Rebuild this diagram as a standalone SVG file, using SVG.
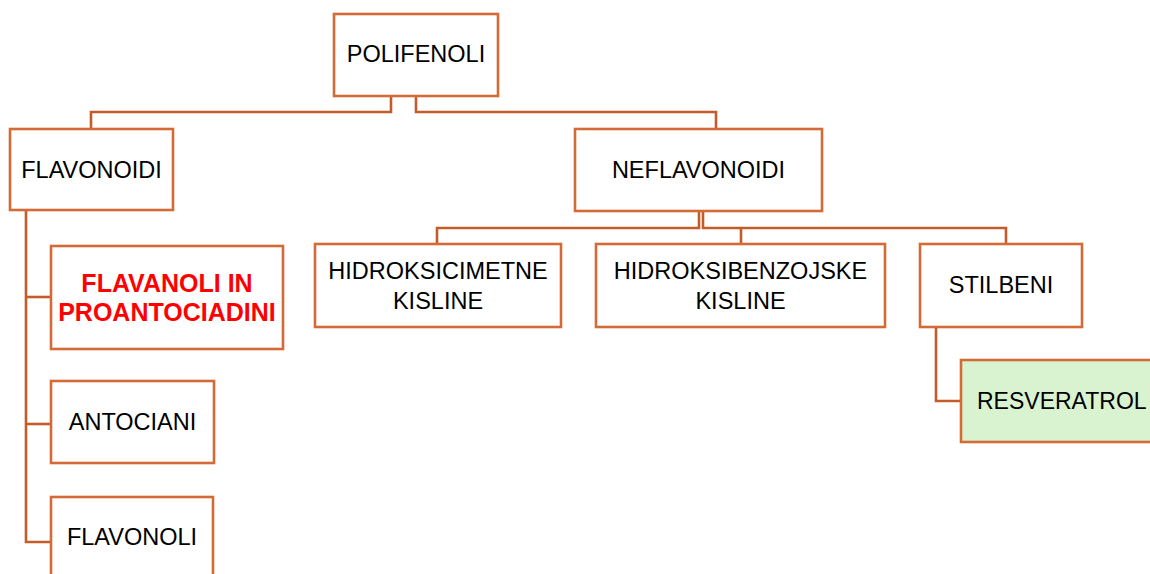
<svg xmlns="http://www.w3.org/2000/svg" width="1150" height="574" viewBox="0 0 1150 574">
<style>
.box{fill:#ffffff;stroke:#d46a36;stroke-width:2.6}
.green{fill:#d9f2d0}
.t{font-family:"Liberation Sans",Arial,sans-serif;font-size:23.5px;fill:#000000;text-anchor:middle}
.r{font-family:"Liberation Sans",Arial,sans-serif;font-size:25px;font-weight:bold;fill:#ff0000;text-anchor:middle}
.c{fill:none;stroke:#c45c2a;stroke-width:2.6}
</style>
<rect width="1150" height="574" fill="#ffffff"/>
<g id="connectors">
<path class="c" d="M391,96 V112 H91 V129"/>
<path class="c" d="M416,96 V112 H716 V129"/>
<path class="c" d="M699,211 V228 H437 V244"/>
<path class="c" d="M703,211 V228 H1006 V244"/>
<path class="c" d="M741,228 V244"/>
<path class="c" d="M936,327 V401 H961"/>
<path class="c" d="M26,210 V542 H51"/>
<path class="c" d="M26,297 H51"/>
<path class="c" d="M26,424 H51"/>
</g>
<g id="polifenoli">
<rect class="box" x="334" y="14" width="164" height="82"/>
<text class="t" x="416" y="62">POLIFENOLI</text>
</g>
<g id="flavonoidi">
<rect class="box" x="10" y="129" width="163" height="81"/>
<text class="t" x="91.5" y="177.5">FLAVONOIDI</text>
</g>
<g id="neflavonoidi">
<rect class="box" x="575" y="129" width="247" height="82"/>
<text class="t" x="698.5" y="178">NEFLAVONOIDI</text>
</g>
<g id="hidroksicimetne">
<rect class="box" x="315" y="244" width="246" height="83"/>
<text class="t" x="438" y="278.5">HIDROKSICIMETNE</text>
<text class="t" x="438" y="308.5">KISLINE</text>
</g>
<g id="hidroksibenzojske">
<rect class="box" x="596" y="244" width="289" height="83"/>
<text class="t" x="740.5" y="278.5">HIDROKSIBENZOJSKE</text>
<text class="t" x="740.5" y="308.5">KISLINE</text>
</g>
<g id="stilbeni">
<rect class="box" x="920" y="244" width="162" height="83"/>
<text class="t" x="1001" y="292.5">STILBENI</text>
</g>
<g id="resveratrol">
<rect class="box green" x="961" y="360" width="210" height="82"/>
<text class="t" x="977" y="409" style="text-anchor:start;font-size:23px">RESVERATROL</text>
</g>
<g id="flavanoli">
<rect class="box" x="51" y="246" width="232" height="103"/>
<text class="r" x="167" y="292">FLAVANOLI IN</text>
<text class="r" x="167" y="321">PROANTOCIADINI</text>
</g>
<g id="antociani">
<rect class="box" x="51" y="381" width="163" height="82"/>
<text class="t" x="132.5" y="430">ANTOCIANI</text>
</g>
<g id="flavonoli">
<rect class="box" x="51" y="497" width="162" height="100"/>
<text class="t" x="132" y="544.5">FLAVONOLI</text>
</g>
</svg>
